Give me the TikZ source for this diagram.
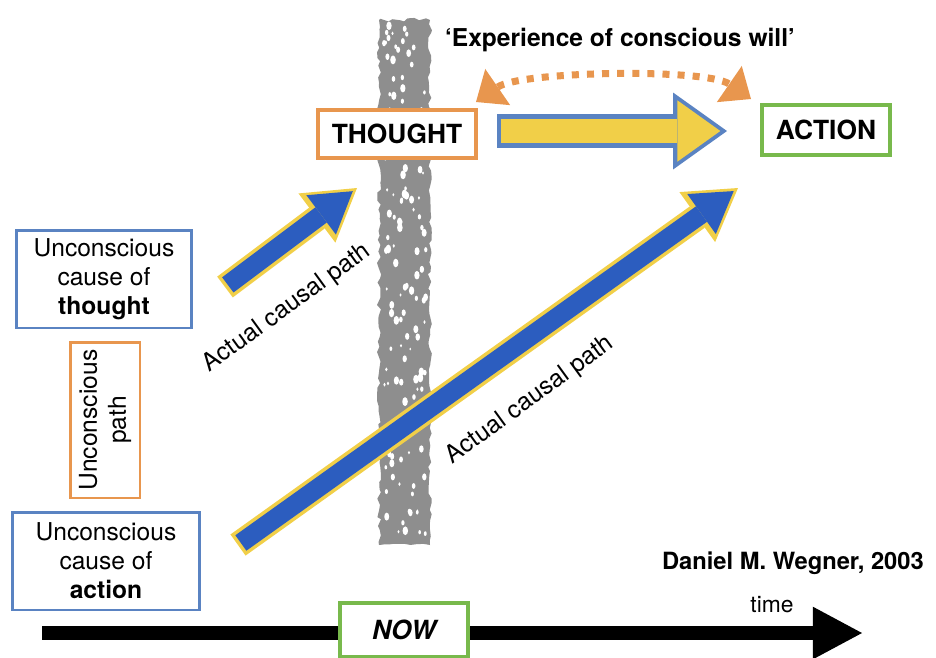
\documentclass[tikz,border=0pt]{standalone}
\usepackage{fontspec}
\setmainfont{TeX Gyre Heros}
\usepackage{xcolor}
\usetikzlibrary{arrows.meta,positioning,decorations.pathmorphing}

\definecolor{boxblue}{HTML}{5A83C2}
\definecolor{boxorange}{HTML}{E8964E}
\definecolor{boxgreen}{HTML}{78B94C}
\definecolor{pathblue}{HTML}{2C5DBF}
\definecolor{pathyellow}{HTML}{F1CF48}
\definecolor{bargray}{HTML}{8E8E8E}

\begin{document}
\begin{tikzpicture}[
    x=0.02cm, y=-0.02cm,
    txt/.style={font=\fontsize{14}{16.5}\selectfont, align=center},
    causebox/.style={txt, draw=boxblue, line width=1.7pt, fill=white, minimum width=3.5cm, minimum height=1.96cm},
    labelbox/.style={draw, line width=2.8pt, fill=white, font=\fontsize{15}{18}\selectfont\bfseries, inner sep=2pt},
    causalout/.style={pathyellow, line width=14.8pt, -{Triangle[length=28.5pt,width=35pt,line width=0pt]}},
    causalin/.style={pathblue, line width=10.8pt, shorten <=2pt, shorten >=3pt, -{Triangle[length=22.5pt,width=28pt,line width=0pt]}},
    willout/.style={boxblue, line width=18.8pt, -{Triangle[length=30.7pt,width=43.8pt,line width=0pt]}},
    willin/.style={pathyellow, line width=14pt, shorten <=2pt, shorten >=3.8pt, -{Triangle[length=24.5pt,width=35pt,line width=0pt]}},
    willarc/.style={boxorange, line width=4pt, dash pattern=on 4pt off 4.6pt, {Triangle[length=15pt,width=25pt,line width=0pt]}-{Triangle[length=15pt,width=25pt,line width=0pt]}},
    timeline/.style={black, line width=8pt, -{Triangle[length=28pt,width=30pt,line width=0pt]}},
    pathlabel/.style={txt, rotate=36}
]
    \useasboundingbox (0,0) rectangle (936,657);

    % "now" bar
    \fill[bargray, decorate, decoration={random steps, segment length=3pt, amplitude=1.2pt}] (379,20) rectangle (430,545);
    \pgfmathsetseed{42}
    \foreach \k in {1,...,140}{
        \pgfmathsetmacro\sx{383+43*rnd}
        \pgfmathsetmacro\sy{25+515*rnd}
        \pgfmathsetmacro\sr{0.5+1.1*rnd}
        \fill[white] (\sx,\sy) ellipse ({\sr pt} and {1.6*\sr pt});
    }

    % arrow ends
    \coordinate (tstart) at (225,287);
    \coordinate (tend) at (357,188);
    \coordinate (astart) at (238,545);
    \coordinate (aend) at (738,188);
    \coordinate (wstart) at (497,131);
    \coordinate (wend) at (727,131);
    \coordinate (wl) at (476,102);
    \coordinate (wr) at (751,99);
    \coordinate (t0) at (42,633);
    \coordinate (t1) at (862,633);

    % actual causal paths
    \draw[causalout] (tstart) -- (tend);
    \draw[causalin] (tstart) -- (tend);
    \draw[causalout] (astart) -- (aend);
    \draw[causalin] (astart) -- (aend);

    % time axis
    \draw[timeline] (t0) -- (t1);

    % boxes
    \node[labelbox, draw=boxorange, minimum width=3.16cm, minimum height=0.96cm] (thought) at (397,134) {THOUGHT};
    \node[labelbox, draw=boxgreen, minimum width=2.56cm, minimum height=1cm] (action) at (826,130) {ACTION};
    \node[labelbox, draw=boxgreen, minimum width=2.56cm, minimum height=1.08cm, font=\fontsize{15}{18}\selectfont\bfseries\itshape] (now) at (404,630) {NOW};
    \node[causebox] (causeT) at (104,279) {Unconscious\\cause of\\\textbf{thought}};
    \node[causebox, minimum width=3.76cm] (causeA) at (106,561) {Unconscious\\cause of\\\textbf{action}};
    \node[txt, draw=boxorange, line width=1.7pt, rotate=90, minimum width=3.12cm, minimum height=1.4cm] (upath) at (105,420) {Unconscious\\path};

    % conscious will
    \draw[willout] (wstart) -- (wend);
    \draw[willin] (wstart) -- (wend);
    \draw[willarc] (wl) .. controls +(45,-31) and +(-45,-31) .. (wr);
    \node[font=\fontsize{14}{16.5}\selectfont\bfseries] (will) at (620,40) {‘Experience of conscious will’};

    % labels
    \node[pathlabel] (lblT) at (287,308) {Actual causal path};
    \node[pathlabel] (lblA) at (530,400) {Actual causal path};
    \node[font=\fontsize{13.5}{16}\selectfont\bfseries, anchor=east] (cite) at (930,563) {Daniel M. Wegner, 2003};
    \node[font=\fontsize{13}{16}\selectfont] (time) at (772,605) {time};

\end{tikzpicture}
\end{document}
